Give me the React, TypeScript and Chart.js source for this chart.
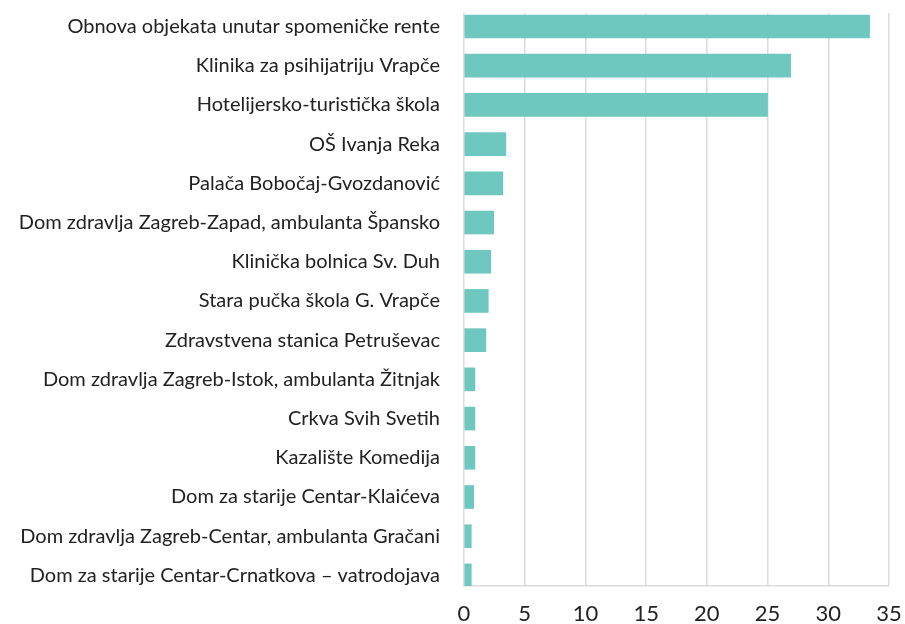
import React, { useEffect, useRef } from "react";
import { Chart, registerables } from "chart.js";

Chart.register(...registerables);

const categories = [
  "Obnova objekata unutar spomeničke rente",
  "Klinika za psihijatriju Vrapče",
  "Hotelijersko-turistička škola",
  "OŠ Ivanja Reka",
  "Palača Bobočaj-Gvozdanović",
  "Dom zdravlja Zagreb-Zapad, ambulanta Špansko",
  "Klinička bolnica Sv. Duh",
  "Stara pučka škola G. Vrapče",
  "Zdravstvena stanica Petruševac",
  "Dom zdravlja Zagreb-Istok, ambulanta Žitnjak",
  "Crkva Svih Svetih",
  "Kazalište Komedija",
  "Dom za starije Centar-Klaićeva",
  "Dom zdravlja Zagreb-Centar, ambulanta Gračani",
  "Dom za starije Centar-Crnatkova – vatrodojava",
];

const values = [33.4, 26.9, 25.0, 3.45, 3.2, 2.45, 2.2, 2.0, 1.8, 0.9, 0.9, 0.9, 0.8, 0.6, 0.6];

const xTicks = [0, 5, 10, 15, 20, 25, 30, 35];

export default function App() {
  const ref = useRef<HTMLCanvasElement | null>(null);

  useEffect(() => {
    if (!ref.current) return;
    const chart = new Chart(ref.current, {
      type: "bar",
      data: {
        datasets: [
          {
            data: values.map((v, i) => ({ x: v, y: i })),
            backgroundColor: "#6fc8bf",
            borderWidth: 0,
            barThickness: 23,
          },
        ],
      },
      options: {
        indexAxis: "y",
        animation: false,
        responsive: false,
        maintainAspectRatio: false,
        layout: { padding: { top: 13, right: 16, bottom: 0, left: 0 } },
        plugins: { legend: { display: false }, tooltip: { enabled: false } },
        scales: {
          x: {
            type: "linear",
            min: xTicks[0],
            max: xTicks[xTicks.length - 1],
            afterBuildTicks: (axis: any) => {
              axis.ticks = xTicks.map((v) => ({ value: v }));
            },
            afterFit: (axis: any) => {
              axis.paddingLeft = 0;
              axis.paddingRight = 0;
              axis.height = 38;
            },
            grid: { color: "#dcdcdc", lineWidth: 1.5, drawTicks: false },
            border: { display: true, color: "#dcdcdc", width: 1.5 },
            ticks: {
              padding: 15,
              color: "#222",
              font: { family: "Lato", size: 22 },
            },
          },
          y: {
            type: "linear",
            reverse: true,
            offset: false,
            min: -0.344,
            max: 14.27,
            afterBuildTicks: (axis: any) => {
              axis.ticks = categories.map((_, i) => ({ value: i }));
            },
            afterFit: (axis: any) => {
              axis.width = 464;
              axis.paddingTop = 0;
              axis.paddingBottom = 0;
            },
            grid: { display: false, drawTicks: false },
            border: { display: false },
            ticks: {
              padding: 24,
              color: "#222",
              font: { family: "Lato", size: 20 },
              callback: (v: any) => categories[Math.round(Number(v))] ?? "",
            },
          },
        },
      },
    });
    return () => chart.destroy();
  }, []);

  return (
    <div style={{ position: "fixed", left: 0, top: 0, width: 905, height: 624, background: "#fff" }}>
      <canvas ref={ref} width={905} height={624} />
    </div>
  );
}
